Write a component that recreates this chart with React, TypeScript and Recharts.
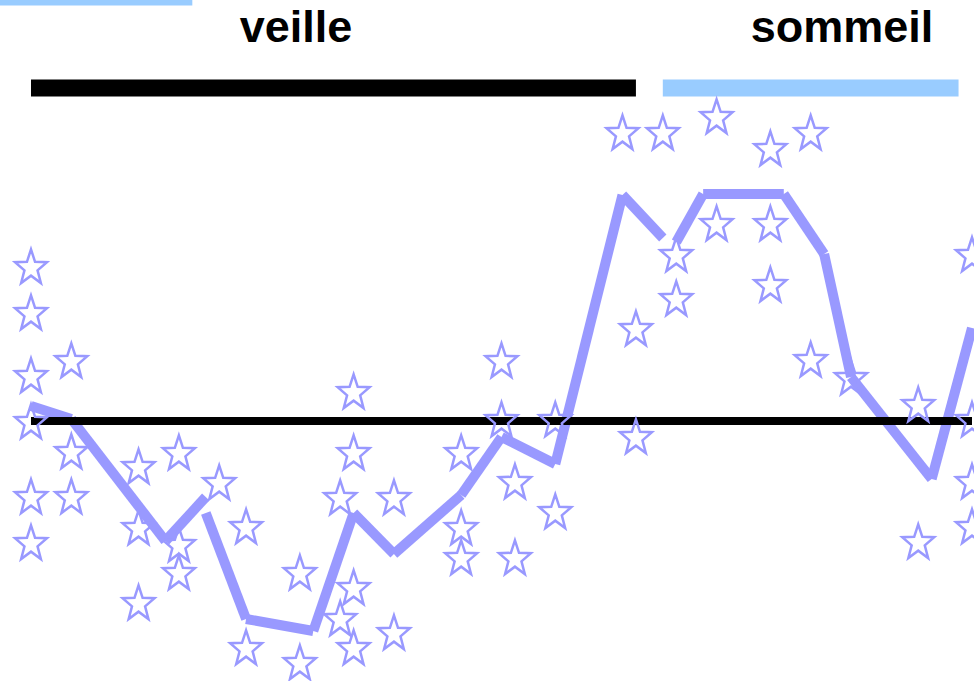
import { ComposedChart, Line, Scatter, XAxis, YAxis } from 'recharts';

// time steps (window of 70 steps) and individual measurements per step
const starTimes = [0, 3, 8, 11, 14, 16, 20, 23, 24, 27, 32, 35, 36, 39, 44, 45, 47, 48, 51, 55, 58, 61, 66, 70];
const starValues = [
    [1.53, 1.07, 0.44, -0.02, -0.77, -1.23],
    [0.59, -0.32, -0.77],
    [-0.47, -1.08, -1.83],
    [-0.33, -1.25, -1.53],
    [-0.63],
    [-1.07, -2.28],
    [-1.53, -2.43],
    [-0.78, -1.99],
    [0.28, -0.33, -1.68, -2.28],
    [-0.78, -2.13],
    [-0.33, -1.08, -1.38],
    [0.59, 0.0],
    [-0.62, -1.38],
    [0.0, -0.92],
    [2.87],
    [0.91, -0.17],
    [2.87],
    [1.65, 1.21],
    [3.03, 1.96],
    [2.71, 1.96, 1.35],
    [2.87, 0.6],
    [0.42],
    [0.15, -1.22],
    [1.65, 0.0, -0.62, -1.07],
];

// mean curve, drawn in three separate pieces
const meanTimesA = [0, 3, 10, 13];
const meanValuesA = [0.15, 0.02, -1.2, -0.76];
const meanTimesB = [13, 16, 21, 24, 27, 32, 35, 39, 44, 47];
const meanValuesB = [-0.92, -1.98, -2.1, -0.92, -1.33, -0.74, -0.16, -0.43, 2.26, 1.83];
const meanTimesC = [48, 50, 56, 59, 61, 67, 70];
const meanValuesC = [1.79, 2.27, 2.27, 1.67, 0.44, -0.58, 0.93];

// reference level and wake / sleep periods
const baseline = 0;
const baselineSpan = [0, 70];
const wakePeriods = [[0, 45]];
const sleepPeriods = [[47, 69]];
const earlierSleep = [[-3, 12]];
const periodLevel = 3.33;
const earlierLevel = 4.24;

const LAVENDER = '#9999ff';
const SKY = '#99ccff';

const stars = starTimes.flatMap((k, i) => starValues[i].map(v => ({ k, v })));

const pieces = [
    [meanTimesA, meanValuesA],
    [meanTimesB, meanValuesB],
    [meanTimesC, meanValuesC],
];

// each stroke of the curve is its own segment (butt ends, like the original)
const segments = pieces.flatMap(([ts, vs]) =>
    ts.slice(0, -1).map((t, i) => [
        { k: t, v: vs[i] },
        { k: ts[i + 1], v: vs[i + 1] },
    ])
);

const toSpan = (span: number[], v: number) => [{ k: span[0], v }, { k: span[1], v }];

function Star(props: any) {
    const { cx, cy } = props;
    const Rx = 16.8;
    const Ry = 18.6;
    const inner = 0.41;
    const pts: string[] = [];
    for (let i = 0; i < 10; i++) {
        const a = -Math.PI / 2 + (i * Math.PI) / 5;
        const f = i % 2 === 0 ? 1 : inner;
        pts.push(`${cx + f * Rx * Math.cos(a)},${cy + f * Ry * Math.sin(a)}`);
    }
    return <polygon points={pts.join(' ')} fill="none" stroke={LAVENDER} strokeWidth={2.5} />;
}

function Bar({ data, color, width }: { data: any[]; color: string; width: number }) {
    return null;
}

export default function App() {
    const W = 974;
    const H = 681;
    const common = {
        dataKey: 'v',
        strokeLinecap: 'butt' as const,
        dot: false,
        activeDot: false,
        isAnimationActive: false,
    };
    return (
        <div style={{ position: 'absolute', left: 0, top: 0, width: W, height: H, background: '#fff' }}>
            <ComposedChart width={W} height={H} margin={{ top: 0, right: 0, bottom: 0, left: 0 }}>
                <XAxis type="number" dataKey="k" domain={[-2.306, 70.149]} allowDataOverflow hide />
                <YAxis type="number" dataKey="v" domain={[-2.6, 4.21]} allowDataOverflow hide />
                <Scatter data={stars} shape={<Star />} isAnimationActive={false} />
                {segments.map((seg, i) => (
                    <Line key={`seg-${i}`} data={seg} stroke={LAVENDER} strokeWidth={10} {...common} />
                ))}
                <Line data={toSpan(baselineSpan, baseline)} stroke="#000" strokeWidth={8} {...common} />
                {wakePeriods.map((p, i) => (
                    <Line key={`wake-${i}`} data={toSpan(p, periodLevel)} stroke="#000" strokeWidth={17} {...common} />
                ))}
                {sleepPeriods.map((p, i) => (
                    <Line key={`sleep-${i}`} data={toSpan(p, periodLevel)} stroke={SKY} strokeWidth={17} {...common} />
                ))}
                {earlierSleep.map((p, i) => (
                    <Line key={`early-${i}`} data={toSpan(p, earlierLevel)} stroke={SKY} strokeWidth={17} {...common} />
                ))}
            </ComposedChart>
            <svg
                width={W}
                height={H}
                style={{ position: 'absolute', left: 0, top: 0, pointerEvents: 'none' }}
            >
                <g fontFamily="'Liberation Sans', Arial, sans-serif" fontWeight="bold" fontSize={45} textAnchor="middle" fill="#000">
                    <text x={296} y={42}>veille</text>
                    <text x={842} y={42}>sommeil</text>
                </g>
            </svg>
        </div>
    );
}
